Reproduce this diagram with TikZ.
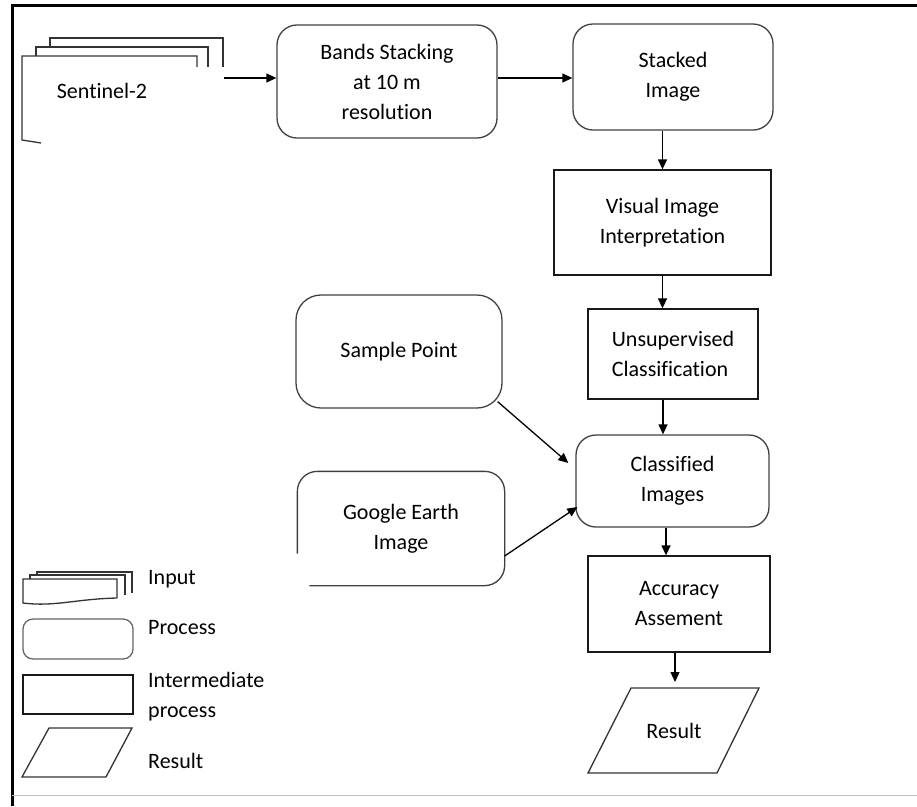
\documentclass[tikz,border=0pt]{standalone}
\usepackage{fontspec}
\setmainfont{Carlito}[Ligatures=NoCommon]
\usetikzlibrary{arrows.meta,calc}

\begin{document}
\begin{tikzpicture}[
  x=1pt,
  y=-1pt,
  font=\fontsize{22}{30}\selectfont,
  process/.style={draw=black!75, rounded corners=20pt, line width=1.3pt, align=center,
    inner sep=0pt},
  interm/.style={draw=black!90, line width=1.3pt, align=center, inner sep=0pt},
  sheet/.style={draw=black!80, line width=1.3pt},
  arrow/.style={-{Triangle[length=10pt,width=9pt]}, line width=1.3pt},
  keylabel/.style={anchor=base west, align=left, inner sep=0pt}
]
  \useasboundingbox (0,0) rectangle (917,806);
  \draw[line width=3pt] (12,806) -- (12,5) -- (917,5);
  \draw[black!25, line width=1pt] (12,795) -- (917,795);

  \draw[sheet] (50,47) -- (50,38) -- (223,38) -- (223,67);
  \draw[sheet] (36,56) -- (36,47) -- (208,47) -- (208,67);
  \draw[sheet] (41,143) -- (22,140) -- (22,56) -- (197,56) -- (197,67);
  \node (sentinel) at (102,91) {Sentinel-2};
  \coordinate (sentout) at (224,78);

  \node[process, minimum width=220, minimum height=113] (bands) at (387,81.5)
    {Bands Stacking\\at 10 m\\resolution};
  \node[process, minimum width=200, minimum height=106] (stacked) at (673,77)
    {Stacked\\Image};
  \node[interm, minimum width=217, minimum height=105] (visual) at (662.5,222.5)
    {Visual Image\\Interpretation};
  \node[interm, minimum width=170, minimum height=90, align=left] (unsup) at (673,354)
    {Unsupervised\\Classification};
  \node[process, minimum width=193, minimum height=92] (classified) at (672.5,481)
    {Classified\\Images};
  \node[process, rounded corners=25pt, minimum width=206, minimum height=113] (sample)
    at (399,351.5) {Sample Point};
  \node[process, draw=none, minimum width=206, minimum height=113] (google)
    at (401,528.5) {Google Earth\\Image};
  \draw[draw=black!75, line width=1.3pt, rounded corners=20pt]
    ([yshift=32pt]google.south west) |- (google.north east)
    |- ([xshift=12pt]google.south west);
  \node[interm, minimum width=182, minimum height=96] (accuracy) at (679,604)
    {Accuracy\\Assement};
  \node (result) at (674,730.5) {Result};
  \draw[sheet] ($(result)+(-43,-42.5)$) -- ($(result)+(85,-42.5)$)
    -- ($(result)+(43,42.5)$) -- ($(result)+(-86,42.5)$) -- cycle;
  \coordinate (resultin) at (675,682);

  \draw[arrow] (sentout) -- (sentout -| bands.west);
  \draw[arrow] (bands.east |- sentout) -- (sentout -| stacked.west);
  \draw[arrow] (visual.north |- stacked.south) -- (visual.north);
  \draw[arrow] (visual.south) -- (visual.south |- unsup.north);
  \draw[arrow] ([xshift=-10pt]unsup.south) -- ([xshift=-10pt]unsup.south |- classified.north);
  \draw[arrow] ([xshift=-6.5pt]classified.south) -- ([xshift=-6.5pt]classified.south |- accuracy.north);
  \draw[arrow] (resultin |- accuracy.south) -- (resultin);
  \draw[arrow] ([shift={(-5pt,7pt)}]sample.south east) -- ([shift={(-7pt,18pt)}]classified.west);
  \draw[arrow] ([yshift=-27.5pt]google.east) -- ([shift={(2pt,-26pt)}]classified.west);

  \draw[sheet] (37,575) -- (37,572) -- (132,572) -- (132,593);
  \draw[sheet] (30,579) -- (30,575) -- (125,575) -- (125,595);
  \draw[sheet] (117,598) -- (117,579) -- (23,579) -- (23,603)
    .. controls (55,607) and (75,599) .. (117,598);
  \node[process, draw=black!60, rounded corners=10pt, minimum width=110, minimum height=40]
    (keyprocess) at (78,639) {};
  \node[interm, minimum width=110, minimum height=39] (keyinterm) at (78,694.5) {};
  \draw[sheet] (49,728) -- (132,728) -- (106,777) -- (22,777) -- cycle;
  \node[keylabel] (keyinputlabel) at (148,584) {Input};
  \node[keylabel] (keyprocesslabel) at (148,634) {Process};
  \node[keylabel] (keyintermlabel) at (148,717) {Intermediate\\process};
  \node[keylabel] (keyresultlabel) at (148,768) {Result};
\end{tikzpicture}
\end{document}
